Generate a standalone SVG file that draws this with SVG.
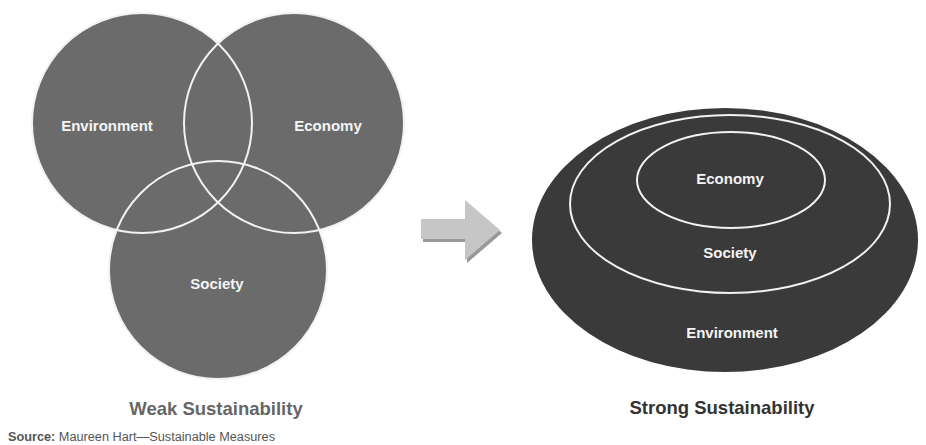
<svg xmlns="http://www.w3.org/2000/svg" width="926" height="445" viewBox="0 0 926 445">
<defs>
<style>
.venn{fill:#6b6b6b}
.ring{fill:none;stroke:#f2f2f2;stroke-width:2}
.lbl{font-family:"Liberation Sans",Arial,sans-serif;font-weight:bold;font-size:15px;fill:#f4f4f4;text-anchor:middle}
.title{font-family:"Liberation Sans",Arial,sans-serif;font-weight:bold;font-size:18.5px;text-anchor:middle}
</style>
</defs>
<rect width="926" height="445" fill="#ffffff"/>
<g id="weak">
<circle class="venn" cx="142" cy="123" r="110"/>
<circle class="venn" cx="294" cy="123" r="110"/>
<circle class="venn" cx="218" cy="270" r="109"/>
<circle class="ring" cx="142" cy="123" r="110"/>
<circle class="ring" cx="294" cy="123" r="110"/>
<circle class="ring" cx="218" cy="270" r="109"/>
<g id="w-environment"><text class="lbl" x="107" y="131">Environment</text></g>
<g id="w-economy"><text class="lbl" x="328" y="131">Economy</text></g>
<g id="w-society"><text class="lbl" x="217" y="289">Society</text></g>
<text class="title" x="216" y="415" fill="#666666">Weak Sustainability</text>
</g>
<g id="arrow">
<polygon points="423,222 467,222 467,203 502,233 467,263 467,242 423,242" fill="#555555" opacity="0.6"/>
<polygon points="421,219 465,219 465,200 500,230 465,260 465,239 421,239" fill="#c6c6c6"/>
</g>
<g id="strong">
<ellipse cx="725" cy="240" rx="193" ry="132" fill="#3a3a3a"/>
<g id="s-society"><ellipse class="ring" cx="730" cy="204" rx="160" ry="89"/></g>
<g id="s-economy"><ellipse class="ring" cx="731" cy="180" rx="94" ry="48"/></g>
<text class="lbl" x="730" y="184">Economy</text>
<text class="lbl" x="730" y="258">Society</text>
<text class="lbl" x="732" y="338">Environment</text>
<text class="title" x="722" y="414" fill="#333333">Strong Sustainability</text>
</g>
<text x="8" y="441" font-family="'Liberation Sans',Arial,sans-serif" font-size="12" fill="#555555" textLength="267" lengthAdjust="spacingAndGlyphs"><tspan font-weight="bold">Source:</tspan> Maureen Hart—Sustainable Measures</text>
</svg>
